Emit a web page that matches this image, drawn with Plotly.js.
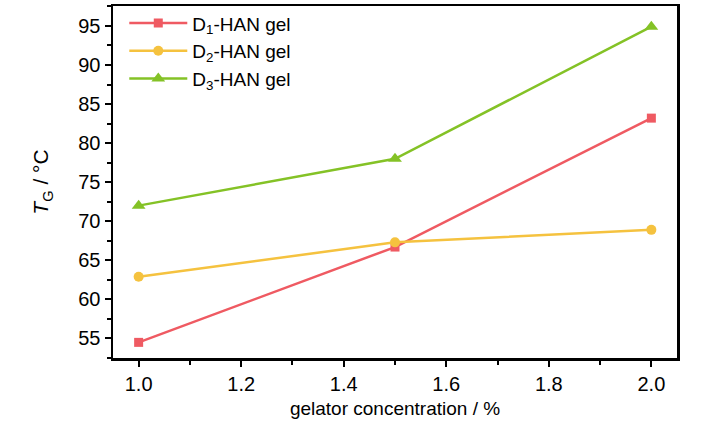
<!DOCTYPE html>
<html>
<head>
<meta charset="utf-8">
<script src="https://cdn.plot.ly/plotly-3.0.1.min.js"></script>
<style>
  html, body { margin: 0; padding: 0; background: #fff; }
  #chart { width: 728px; height: 424px; }
</style>
</head>
<body>
<div id="chart"></div>
<script>
// gelator concentration (%) on x, gelation temperature T_G on y
const concentration = [1.0, 1.5, 2.0];
const d1Values = [54.5, 66.7, 83.2];
const d2Values = [62.9, 67.3, 68.9];
const d3Values = [72.0, 78.0, 94.9];
const seriesNames = ['D<sub>1</sub>-HAN gel', 'D<sub>2</sub>-HAN gel', 'D<sub>3</sub>-HAN gel'];

const FONT = '"Liberation Sans", Arial, sans-serif';
const RED    = '#ef5a62';
const YELLOW = '#f5c23f';
const GREEN  = '#84c226';

const makeTrace = (y, name, color, symbol, size) => ({
  x: concentration,
  y: y,
  name: name,
  type: 'scatter',
  mode: 'lines+markers',
  line:   { color: color, width: 2.5 },
  marker: { color: color, symbol: symbol, size: size },
});

const traces = [
  makeTrace(d1Values, seriesNames[0], RED,    'square',      9),
  makeTrace(d2Values, seriesNames[1], YELLOW, 'circle',      10),
  makeTrace(d3Values, seriesNames[2], GREEN,  'triangle-up', 12),
];

const axisCommon = {
  showline:  true,
  linecolor: '#000',
  linewidth: 2.5,
  mirror:    true,
  ticks:     'outside',
  ticklen:   6,
  tickwidth: 2,
  tickcolor: '#000',
  showgrid:  false,
  zeroline:  false,
  tickfont:  { family: FONT, size: 20, color: '#000' },
};

const layout = {
  width:  728,
  height: 424,
  margin: { l: 113, r: 51, t: 4, b: 66 },
  paper_bgcolor: '#fff',
  plot_bgcolor:  '#fff',
  showlegend: true,
  legend: {
    x: 0.02, y: 1.005,
    xanchor: 'left', yanchor: 'top',
    bgcolor: 'rgba(0,0,0,0)',
    font: { family: FONT, size: 19, color: '#000' },
    tracegroupgap: 0,
    itemwidth: 58,
  },
  xaxis: {
    ...axisCommon,
    range: [0.95, 2.05],
    tick0: 1.0,
    dtick: 0.2,
    tickformat: '.1f',
    minor: { dtick: 0.1, ticks: 'outside', ticklen: 4, tickwidth: 2, tickcolor: '#000' },
    title: { text: 'gelator concentration / %', font: { family: FONT, size: 19, color: '#000' }, standoff: 8 },
  },
  yaxis: {
    ...axisCommon,
    range: [52.5, 97.55],
    tick0: 55,
    dtick: 5,
    minor: { dtick: 2.5, ticks: 'outside', ticklen: 4, tickwidth: 2, tickcolor: '#000' },
    title: { text: '<i>T</i><sub>G</sub> / °C', font: { family: FONT, size: 21, color: '#000' }, standoff: 24 },
  },
};

Plotly.newPlot('chart', traces, layout, { displayModeBar: false, staticPlot: true });
</script>
</body>
</html>
